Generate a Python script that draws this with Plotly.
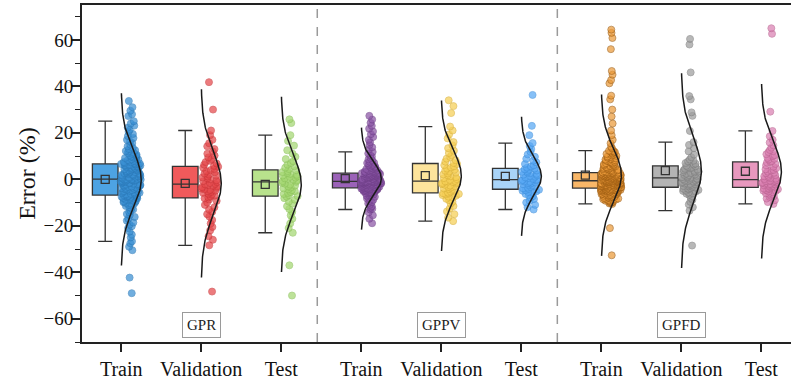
import numpy as np
import plotly.graph_objects as go

categories = ["Train", "Validation", "Test", "Train", "Validation", "Test", "Train", "Validation", "Test"]
group_names = ["GPR", "GPPV", "GPFD"]
group_centers = [1, 4, 7]

gpr_train = [-49, -42.3, -30.5, -29, -27.5, -26.7, -25, -23.8, -22.5, -21, -20.2, -19.5, -18.6, -17.8, -17,
             -16.2, -15.5, -14.9, -14.2, -13.6, -13, -12.5, -12, -11.5, -11, -10.6, -10.2, -9.8, -9.5, -9.1,
             -8.8, -8.5, -8.2, -7.9, -7.6, -7.3, -7.1,
             -7.2, -7.5, -7.8, -8.1, -8.4, -8.9, -9.3, -9.9, -10.4, -11.2,
             -6.8, -6.6, -6.3, -6.1, -5.9, -5.6, -5.4, -5.2, -5, -4.7, -4.5, -4.3, -4.1, -3.9, -3.7, -3.5,
             -3.3, -3.1, -2.9, -2.7, -2.5, -2.3, -2.1, -1.9, -1.7, -1.5, -1.3, -1.1, -0.9, -0.8, -0.7, -0.6,
             -0.5, -0.4, -0.3, -0.2, -0.1, 0,
             -6.5, -5.8, -5.1, -4.4, -3.8, -3.0, -2.4, -1.6, -1.0, -0.35,
             0.1, 0.3, 0.5, 0.7, 0.9, 1.1, 1.3, 1.5, 1.7, 1.9, 2.1, 2.3, 2.5, 2.7, 2.9, 3.1, 3.3, 3.5, 3.7,
             3.9, 4.1, 4.3, 4.5, 4.7, 4.9, 5.1, 5.3, 5.5, 5.7, 5.8, 5.9, 6.0, 6.1, 6.2, 6.3, 6.4, 6.5, 6.6,
             0.2, 0.8, 1.4, 2.0, 2.6, 3.2, 3.8, 4.4, 5.0, 5.6,
             6.8, 7.1, 7.4, 7.7, 8, 8.3, 8.6, 9, 9.4, 9.8, 10.2, 10.6, 11, 11.5, 12, 12.5, 13, 13.6, 14.2,
             14.9, 15.6, 16.3, 17, 17.8, 18.6, 19.5, 20.4, 21.3, 22.2, 23.1, 24, 25, 27.2, 28, 29.5, 31, 33.7,
             6.7, 7.0, 7.3, 7.9, 8.5, 9.2, 9.7, 10.4, 11.3, 12.2]
gpr_val = [-48.3, -28.4, -26, -24.5, -22, -20.5, -19, -17.5, -16, -15, -14, -13, -12, -11, -10, -9.3, -8.7, -8.2,
           -7.8, -7.4, -7, -6.6, -6.2, -5.8, -5.5, -5.2, -4.9, -4.6, -4.3, -4, -3.7, -3.4, -3.1, -2.8, -2.5, -2.2,
           -2.0, -1.6, -1.2, -0.8, -0.4, 0, 0.4, 0.8, 1.2, 1.6, 2, 2.5, 3, 3.5, 4, 4.5, 5, 5.4,
           5.8, 6.3, 6.8, 7.4, 8, 8.7, 9.4, 10.2, 11, 12, 13, 14.2, 15.5, 17, 19, 21, 30, 41.8]
gpr_test = [-50, -37, -23, -21, -19, -17, -15.5, -14, -12.8, -11.6, -10.5, -9.6, -8.8, -8.1, -7.5,
            -7.2, -6.8, -6.3, -5.9, -5.5, -5.1, -4.7, -4.3, -3.9, -3.5, -3.1, -2.7, -2.3, -1.9, -1.5,
            -1.1, -0.8, -0.5, -0.2, 0.1, 0.4, 0.7, 1, 1.3, 1.6, 1.9, 2.3, 2.7, 3.1, 3.5,
            3.9, 4.4, 5, 5.6, 6.3, 7, 7.8, 8.7, 9.7, 11, 12.5, 14.5, 16.5, 19, 24.2, 25.8]
gppv_train = [-18.9, -17, -15.5, -14.2, -13, -12.7, -12.2, -11.6, -11, -10.4, -9.8, -9.3, -8.8, -8.3, -7.9,
              -7.5, -7.1, -6.8, -6.5, -6.2, -5.9, -5.7, -5.5, -5.3, -5.1, -4.9, -4.8, -4.7, -4.6, -4.5, -4.4,
              -4.3, -4.2, -4.1, -4.0, -3.9, -3.8,
              -3.85, -4.05, -4.25, -4.55, -4.85, -5.2, -5.6, -6.0, -6.6, -7.3,
              -3.65, -3.6, -3.5, -3.4, -3.3, -3.2, -3.1, -3.0, -2.9, -2.8, -2.7, -2.6, -2.5, -2.4, -2.3, -2.2,
              -2.1, -2.0, -1.9, -1.8, -1.75, -1.7, -1.6, -1.55, -1.5, -1.45, -1.4, -1.35, -1.3, -1.25, -1.2,
              -1.15, -1.1, -1.05, -1.0, -0.95, -0.92, -0.9,
              -3.45, -3.05, -2.65, -2.25, -1.95, -1.65, -1.38, -1.22, -1.08, -0.97,
              -0.8, -0.7, -0.6, -0.5, -0.4, -0.3, -0.2, -0.1, 0, 0.1, 0.2, 0.3, 0.4, 0.5, 0.6, 0.7, 0.8, 0.9,
              1.0, 1.1, 1.2, 1.3, 1.4, 1.5, 1.6, 1.7, 1.8, 1.9, 2.0, 2.1, 2.2, 2.3, 2.4, 2.45, 2.5, 2.55, 2.6, 2.65,
              -0.75, -0.45, -0.15, 0.25, 0.65, 1.05, 1.45, 1.85, 2.25, 2.58,
              2.8, 3.0, 3.2, 3.4, 3.6, 3.8, 4.0, 4.3, 4.6, 4.9, 5.2, 5.5, 5.9, 6.3, 6.7, 7.1, 7.6, 8.1, 8.6,
              9.2, 9.8, 10.4, 11.1, 11.8, 12.8, 13.8, 14.8, 15.9, 17, 18.2, 19.4, 20.6, 21.8, 23, 24.3, 25.7, 27.3,
              2.9, 3.1, 3.3, 3.5, 3.9, 4.4, 4.8, 5.4, 6.1, 7.0]
gppv_val = [-18, -16.5, -15, -13.8, -12.6, -11.5, -10.5, -9.7, -9, -8.4, -7.9, -7.5, -7.1, -6.8, -6.5, -6.3, -6.1, -6.0,
            -5.7, -5.3, -4.9, -4.5, -4.2, -3.9, -3.6, -3.3, -3, -2.7, -2.4, -2.1, -1.8, -1.6, -1.4, -1.2, -1.0, -0.9,
            -0.7, -0.3, 0.1, 0.5, 0.9, 1.3, 1.7, 2.1, 2.5, 2.9, 3.3, 3.7, 4.1, 4.6, 5.1, 5.6, 6.1, 6.6,
            7, 7.6, 8.2, 8.9, 9.6, 10.4, 11.3, 12.3, 13.4, 14.6, 16, 17.6, 19.3, 21, 22.7, 28.5, 31.5, 34]
gppv_test = [-13, -12, -11, -10, -9.2, -8.5, -7.9, -7.3, -6.8, -6.3, -5.9, -5.5, -5.2, -4.9, -4.7, -4.5,
             -4.2, -3.9, -3.6, -3.3, -3, -2.7, -2.4, -2.1, -1.8, -1.6, -1.4, -1.1, -0.9, -0.7, -0.5, -0.3,
             -0.1, 0.2, 0.5, 0.8, 1.1, 1.4, 1.7, 2, 2.3, 2.6, 2.9, 3.2, 3.5, 3.8, 4.1, 4.3,
             4.6, 5, 5.5, 6, 6.6, 7.3, 8, 8.8, 9.7, 10.7, 11.8, 13, 14.3, 15.6, 19, 23, 36.3]
gpfd_train = [-32.7, -21,
              -10.6, -10.2, -9.8, -9.4, -9.0, -8.7, -8.4, -8.1, -7.8, -7.5, -7.2, -6.9, -6.7, -6.5, -6.3, -6.1,
              -5.9, -5.7, -5.5, -5.3, -5.1, -5.0, -4.9, -4.8, -4.7, -4.6, -4.5, -4.4, -4.3, -4.2, -4.1, -4.0,
              -3.9, -3.85, -3.8, -3.75,
              -10.4, -10.0, -9.6, -9.2, -8.9, -8.6, -8.3, -8.0, -7.7, -7.4, -7.1, -6.8, -6.6, -6.4, -6.2,
              -6.0, -5.8, -5.6, -5.4, -5.2, -5.05, -4.95, -4.85, -4.75, -4.65, -4.55, -4.45, -4.35, -4.25, -4.15,
              -3.6, -3.5, -3.4, -3.3, -3.2, -3.1, -3.0, -2.9, -2.8, -2.7, -2.6, -2.5, -2.4, -2.3, -2.2, -2.1,
              -2.0, -1.9, -1.8, -1.7, -1.6, -1.5, -1.45, -1.4, -1.3, -1.25, -1.2, -1.1, -1.05, -1.0, -0.95,
              -0.9, -0.85, -0.8, -0.75, -0.7, -0.65, -0.6,
              -3.65, -3.55, -3.45, -3.35, -3.25, -3.15, -3.05, -2.95, -2.85, -2.75, -2.65, -2.55, -2.45, -2.35,
              -2.25, -2.15, -2.05, -1.95, -1.85, -1.75, -1.65, -1.55, -1.35, -1.15, -1.0, -0.9, -0.8, -0.75,
              -0.7, -0.62,
              -0.5, -0.4, -0.3, -0.2, -0.1, 0, 0.1, 0.2, 0.3, 0.4, 0.5, 0.6, 0.7, 0.8, 0.9, 1.0, 1.1, 1.2,
              1.3, 1.4, 1.5, 1.6, 1.7, 1.8, 1.9, 2.0, 2.1, 2.2, 2.3, 2.4, 2.5, 2.6, 2.7, 2.8, 2.85, 2.9, 2.95,
              -0.55, -0.45, -0.35, -0.25, -0.15, -0.05, 0.05, 0.15, 0.25, 0.35, 0.45, 0.55, 0.65, 0.75, 0.85,
              0.95, 1.05, 1.15, 1.25, 1.35, 1.45, 1.55, 1.65, 1.75, 1.85, 1.95, 2.05, 2.35, 2.65, 2.9,
              3.2, 3.5, 3.8, 4.1, 4.5, 4.9, 5.3, 5.8, 6.3, 6.9, 7.5, 8.2, 9, 9.8, 10.6, 11.5, 12.3,
              3.1, 3.3, 3.6, 3.9, 4.2, 4.4, 4.7, 5.0, 5.2, 5.5, 5.7, 6.0, 6.2, 6.5, 6.8, 7.1, 7.4, 7.8, 8.0,
              8.5, 8.8, 9.3, 9.6, 10.1, 10.4, 10.9, 11.2, 11.7, 12.0, 12.2,
              13.3, 14, 15.5, 17, 19, 21, 24, 27, 30,
              34.4, 36, 41.3, 42.7, 45, 46.6, 56, 60.8, 63, 64.4]
gpfd_val = [-28.5, -13.5, -12, -10.8, -9.7, -8.8, -8, -7.3, -6.7, -6.2, -5.7, -5.3, -4.9, -4.6, -4.3, -4.0, -3.8,
            -4.1, -5.0, -6.0,
            -3.5, -3.2, -2.9, -2.6, -2.3, -2, -1.8, -1.6, -1.4, -1.2, -1.0, -0.8, -0.6, -0.4, -0.2, 0, 0.1,
            -3.0, -2.1, -1.1,
            0.3, 0.6, 0.9, 1.2, 1.5, 1.8, 2.1, 2.4, 2.7, 3, 3.3, 3.6, 3.9, 4.2, 4.5, 4.8, 5.0,
            0.7, 1.9, 3.1,
            5.3, 5.8, 6.4, 7, 7.7, 8.5, 9.5, 10.6, 12, 13.4, 14.8, 16, 20.8, 27.3, 28.8, 34.4, 35.8, 46, 58, 60.4,
            5.6, 6.7, 8.0]
gpfd_test = [-10.6, -9.8, -9, -8.3, -7.6, -7, -6.5, -6, -5.6, -5.2, -4.9, -4.6, -4.3, -4.0, -3.8,
             -4.2, -5.0, -6.2, -7.3,
             -3.5, -3.2, -2.9, -2.6, -2.4, -2.2, -2, -1.8, -1.6, -1.4, -1.2, -1.0, -0.9, -0.8, -0.6,
             -3.0, -2.3, -1.5, -0.7,
             -0.3, 0.1, 0.5, 0.9, 1.3, 1.8, 2.3, 2.8, 3.3, 3.8, 4.3, 4.8, 5.4, 6, 6.6,
             0.3, 1.5, 2.6, 4.0,
             7.2, 7.8, 8.5, 9.2, 10, 10.8, 11.7, 12.6, 13.6, 14.6, 15.8, 17, 18.5, 20.8, 29.1, 62.6, 65,
             7.5, 8.8, 10.4, 12.1]

series = [gpr_train, gpr_val, gpr_test, gppv_train, gppv_val, gppv_test, gpfd_train, gpfd_val, gpfd_test]

box_fill = ['#4da3e3', '#f05a5b', '#b8e28c', '#9b62b8', '#fde49c', '#a9d4f8', '#f9b768', '#b3b3b3', '#e898be']
pt_color = ['#3a90d4', '#e6494c', '#a5d872', '#8b56a6', '#f6cf55', '#58a8f5', '#eb9a3a', '#9e9e9e', '#db80b2']
pt_line = ['#2b78b8', '#c93538', '#8cc25a', '#6e3f88', '#d9b13a', '#3f8fdc', '#9a5a10', '#7d7d7d', '#b9628f']

SERIF = "Liberation Serif, Times New Roman, serif"
fig = go.Figure()

for i, vals in enumerate(series):
    fig.add_trace(go.Box(
        y=vals, x0=i - 0.2, width=0.32, boxpoints='all', jitter=0.8, pointpos=2,
        fillcolor=box_fill[i], line=dict(color='#333333', width=1.3), whiskerwidth=0.55,
        marker=dict(color=pt_color[i], size=7, opacity=0.72, line=dict(color=pt_line[i], width=0.8)),
        showlegend=False, hoverinfo='y'))

for i, vals in enumerate(series):
    v = np.asarray(vals, dtype=float)
    m, s = v.mean(), v.std(ddof=1)
    yy = np.linspace(m - 3.0 * s, m + 3.0 * s, 150)
    xx = i + 0.25 * np.exp(-0.5 * ((yy - m) / s) ** 2)
    fig.add_trace(go.Scatter(x=xx, y=yy, mode='lines', line=dict(color='#1a1a1a', width=1.5),
                             showlegend=False, hoverinfo='skip'))
    fig.add_trace(go.Scatter(x=[i - 0.2], y=[m], mode='markers',
                             marker=dict(symbol='square-open', size=8, color='#333333', line=dict(width=1.3)),
                             showlegend=False, hoverinfo='y'))

for xs in [2.45, 5.45]:
    fig.add_shape(type='line', x0=xs, x1=xs, y0=0, y1=1, xref='x', yref='paper',
                  line=dict(color='#9a9a9a', width=1.5, dash='dash'))

for name, c in zip(group_names, group_centers):
    fig.add_annotation(x=c, y=-62.5, text=name, showarrow=False,
                       font=dict(family=SERIF, size=15, color='#222222'),
                       bordercolor='#9a9a9a', borderwidth=1, borderpad=4, bgcolor='white')

fig.update_layout(
    width=791, height=383,
    margin=dict(l=82, r=0, t=5, b=41),
    plot_bgcolor='white', paper_bgcolor='white',
    boxmode='overlay', boxgap=0, boxgroupgap=0,
    xaxis=dict(range=[-0.49, 8.37], tickmode='array', tickvals=list(range(9)), ticktext=categories,
               ticks='outside', ticklen=8, tickwidth=1.5, tickcolor='#222222',
               showline=True, linewidth=1.5, linecolor='#222222', mirror=True,
               showgrid=False, zeroline=False, automargin=False,
               tickfont=dict(family=SERIF, size=20, color='#111111')),
    yaxis=dict(range=[-70, 75], tick0=0, dtick=20,
               ticks='outside', ticklen=9, tickwidth=1.5, tickcolor='#222222',
               minor=dict(tick0=0, dtick=10, ticks='outside', ticklen=5, tickwidth=1.3, tickcolor='#222222'),
               showline=True, linewidth=1.8, linecolor='#222222',
               showgrid=False, zeroline=False, automargin=False, ticklabelstandoff=-6,
               tickfont=dict(family=SERIF, size=19, color='#111111'),
               title=dict(text='Error (%)', font=dict(family=SERIF, size=24, color='#111111'), standoff=1)),
)

fig.write_html("out.html", config={'displayModeBar': False},
               post_script="document.body.style.margin='0px';document.body.style.overflow='hidden';")
